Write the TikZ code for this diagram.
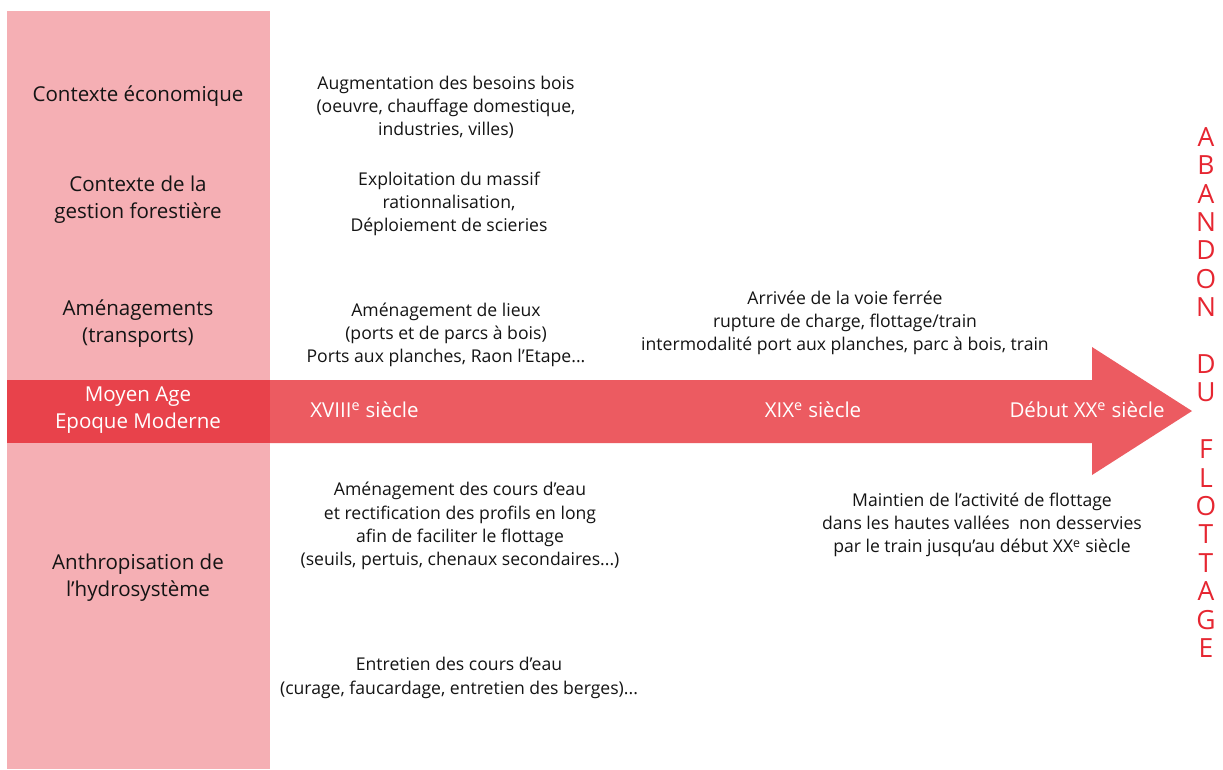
\documentclass[tikz,border=0pt]{standalone}
\usepackage{fontspec}
\setmainfont{Open Sans}
\definecolor{colpink}{HTML}{F5AFB4}
\definecolor{colband}{HTML}{E8424B}
\definecolor{arrowred}{HTML}{EC5B61}
\definecolor{titlered}{HTML}{E62631}
\definecolor{txt}{HTML}{141414}
\tikzset{
  rowlabel/.style={align=center, text=txt, inner sep=0pt, font=\fontsize{15.4}{20.2}\selectfont},
  desc/.style={align=center, text=txt, inner sep=0pt, font=\fontsize{13.2}{17.4}\selectfont},
  period/.style={text=white, inner sep=0pt, font=\fontsize{15.4}{20.2}\selectfont},
  bandlabel/.style={align=center, text=white, inner sep=0pt, font=\fontsize{15.4}{20.2}\selectfont},
  vert/.style={align=center, text=titlered, inner sep=0pt, font=\fontsize{19.8}{21.3}\selectfont}
}
\newcommand{\sxp}[1]{\textsuperscript{#1}}
\begin{document}
\begin{tikzpicture}[x=0.75pt,y=-0.75pt]
\useasboundingbox (0,0) rectangle (1223,769);
\fill[white] (0,0) rectangle (1223,769);
% left column
\fill[colpink] (7,11) rectangle (270,769);
% arrow
\fill[arrowred] (270,380) -- (1092,380) -- (1092,347) -- (1192,411) -- (1092,475) -- (1092,443) -- (270,443) -- cycle;
\fill[colband] (7,380) rectangle (270,443);
% row labels
\node[rowlabel] (eco) at (138,96) {Contexte économique};
\node[rowlabel] (gest) at (138,200) {Contexte de la\\gestion forestière};
\node[rowlabel] (amen) at (138,324) {Aménagements\\(transports)};
\node[bandlabel] (moyen) at (138,410) {Moyen Age\\Epoque Moderne};
\node[rowlabel] (anthro) at (138,578) {Anthropisation de\\l’hydrosystème};
% periods
\node[period, anchor=west] (p18) at (310,410) {XVIII\sxp{e} siècle};
\node[period] (p19) at (813,410) {XIX\sxp{e} siècle};
\node[period] (p20) at (1087,410) {Début XX\sxp{e} siècle};
% descriptions
\node[desc] (d1) at (446,107) {Augmentation des besoins bois\\(oeuvre, chauffage domestique,\\industries, villes)};
\node[desc] (d2) at (449,204) {Exploitation du massif\\rationnalisation,\\Déploiement de scieries};
\node[desc] (d3) at (446,335) {Aménagement de lieux\\(ports et de parcs à bois)\\Ports aux planches, Raon l’Etape...};
\node[desc] (d4) at (845,323) {Arrivée de la voie ferrée\\rupture de charge, flottage/train\\intermodalité port aux planches, parc à bois, train};
\node[desc] (d5) at (460,526) {Aménagement des cours d’eau\\et rectification des profils en long\\afin de faciliter le flottage\\(seuils, pertuis, chenaux secondaires...)};
\node[desc] (d6) at (982,525) {Maintien de l’activité de flottage\\dans les hautes vallées ~non desservies\\par le train jusqu’au début XX\sxp{e} siècle};
\node[desc] (d7) at (459,678) {Entretien des cours d’eau\\(curage, faucardage, entretien des berges)...};
% vertical title
\node[vert] (aband) at (1206,392.5) {A\\B\\A\\N\\D\\O\\N\\\mbox{}\\D\\U\\\mbox{}\\F\\L\\O\\T\\T\\A\\G\\E};
\end{tikzpicture}
\end{document}
